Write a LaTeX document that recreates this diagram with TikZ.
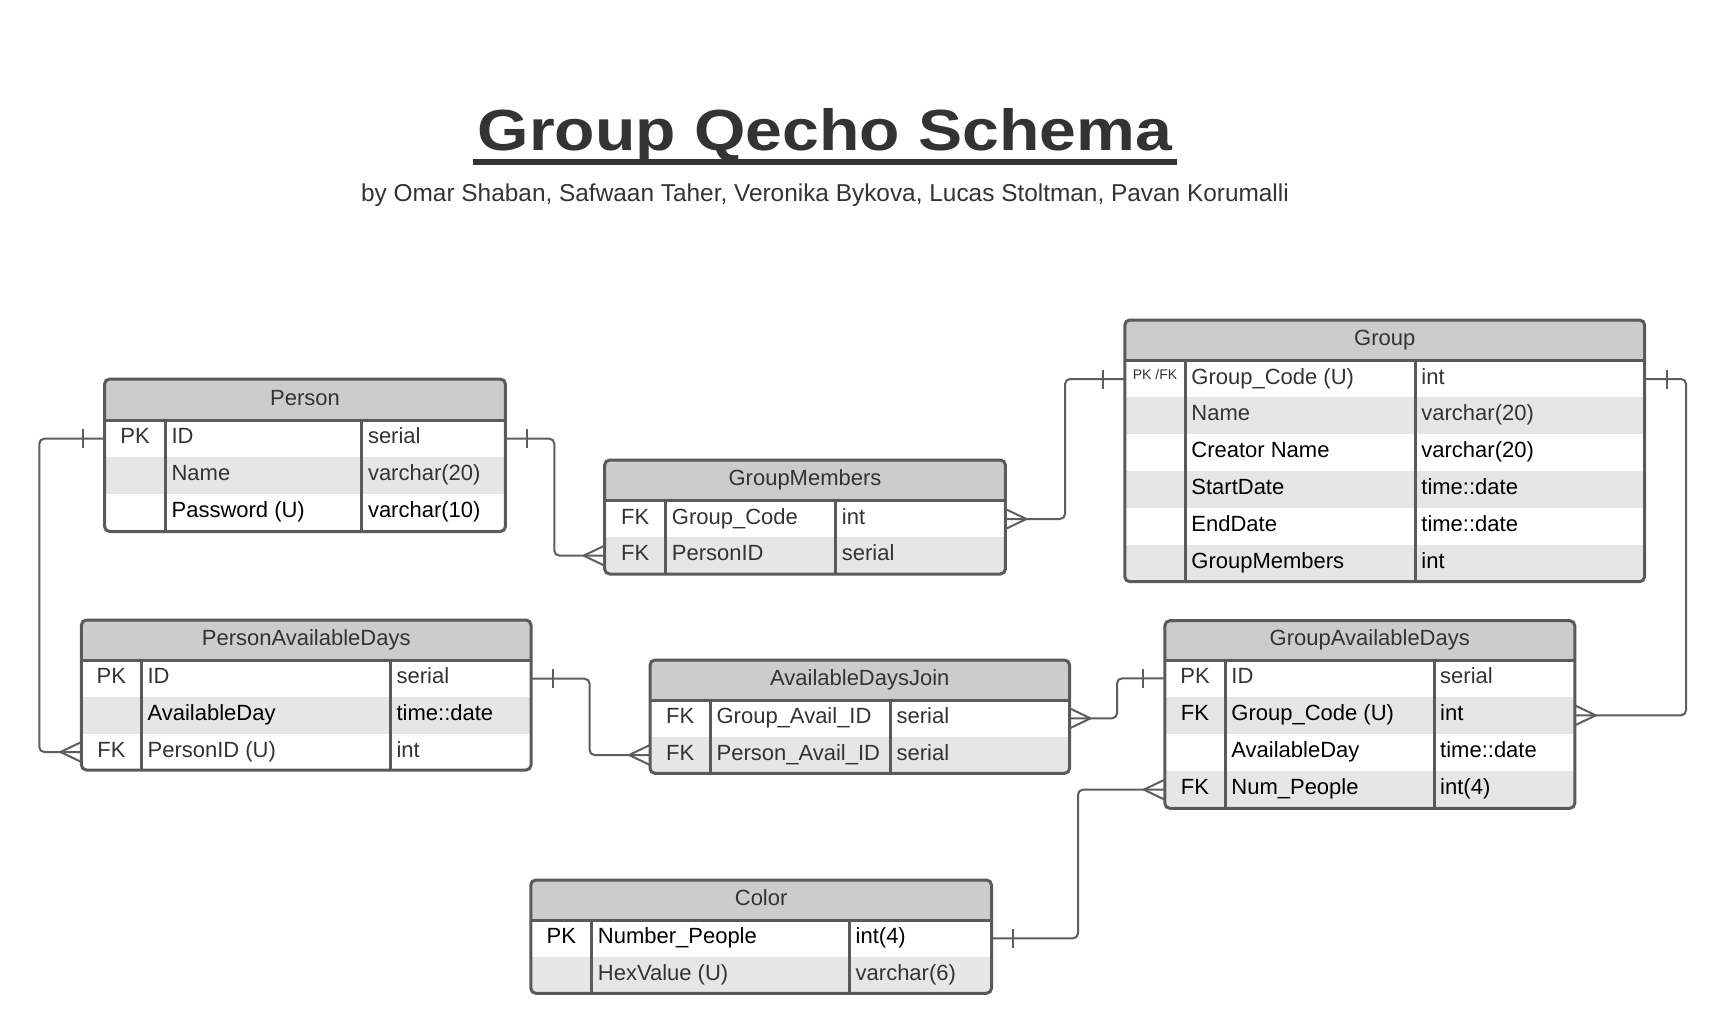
\documentclass[tikz,border=0pt]{standalone}
\usepackage{fontspec}
\setmainfont{Liberation Sans}
\usetikzlibrary{calc}
\definecolor{bordc}{HTML}{5A5A5A}
\definecolor{hdrc}{HTML}{CCCCCC}
\definecolor{stripec}{HTML}{E6E6E6}
\definecolor{txtg}{HTML}{333333}
\definecolor{connc}{HTML}{5E5E5E}
\tikzset{
 border/.style={draw=bordc, line width=3pt},
 conn/.style={draw=connc, line width=2pt, rounded corners=5pt},
 tick/.style={draw=connc, line width=2pt, line join=round},
 celltxt/.style={anchor=base west, inner sep=0pt, font=\fontsize{22}{26}\selectfont},
 keytxt/.style={anchor=base, inner sep=0pt, font=\fontsize{22}{26}\selectfont},
 headtxt/.style={anchor=base, inner sep=0pt, text=txtg, font=\fontsize{22}{26}\selectfont},
 rowbox/.style={rectangle, inner sep=0pt, outer sep=0pt, draw=none},
}
\newcommand\settab[6]{\def\tL{#1}\def\tT{#2}\def\tR{#3}\def\tH{#4}\def\cA{#5}\def\cB{#6}}
\newcommand\erow[8]{%
 \pgfmathsetmacro\rw{\tR-\tL}\pgfmathsetmacro\rh{#3-#2}%
 \pgfmathsetmacro\rx{(\tL+\tR)/2}\pgfmathsetmacro\ry{(#2+#3)/2}%
 \pgfmathsetmacro\rb{\ry+5}%
 \pgfmathsetmacro\kx{(\tL+\cA)/2}%
 \node[rowbox, fill=#4, minimum width=\rw pt, minimum height=\rh pt] (#1) at (\rx,\ry) {};
 \node[keytxt, text=#8] at (\kx,\rb) {#5};
 \node[celltxt, text=#8] at (\cA+6,\rb) {#6};
 \node[celltxt, text=#8] at (\cB+6,\rb) {#7};
}
\newcommand\tabclip[1]{\clip[rounded corners=5pt] (\tL,\tT) rectangle (\tR,#1);
 \fill[hdrc] (\tL,\tT) rectangle (\tR,\tH);}
\newcommand\tabborder[3]{%
 \draw[border] (\tL,\tH) -- (\tR,\tH) (\cA,\tH) -- (\cA,#1) (\cB,\tH) -- (\cB,#1);
 \draw[border, rounded corners=5pt] (\tL,\tT) rectangle (\tR,#1);
 \pgfmathsetmacro\hx{(\tL+\tR)/2}\pgfmathsetmacro\hy{(\tT+\tH)/2+5.5}%
 \node[headtxt] (#3) at (\hx,\hy) {#2};
}
\newcommand\onebar[2]{\draw[tick] ([xshift=#2]#1) ++(0,9.5) -- ++(0,-19);}
\newcommand\crow[2]{\draw[tick] ([yshift=10]#1) -- ([xshift=#2]#1) -- ([yshift=-10]#1);}
\begin{document}
\begin{tikzpicture}[x=1pt,y=-1pt]
\useasboundingbox[fill=white] (0,0) rectangle (1727,1034);

% Title
\node[font=\fontsize{58}{62}\selectfont\bfseries, text=txtg, anchor=base, inner sep=0pt] (title) at (825,150) {\scalebox{1.14}[1]{Group Qecho Schema}};
\draw[txtg, line width=6pt] ([shift={(-5,11.7)}]title.base west) -- ([shift={(5,11.7)}]title.base east);
\node[font=\fontsize{24.4}{28}\selectfont, text=txtg, anchor=base, inner sep=0pt] (byline) at (825,201.5) {by Omar Shaban, Safwaan Taher, Veronika Bykova, Lucas Stoltman, Pavan Korumalli};

% Person
\settab{104.6}{379}{505.4}{420}{165.4}{361.8}
\begin{scope}
\tabclip{531.5}
\erow{person-r1}{420}{457.3}{white}{PK}{ID}{serial}{txtg}
\erow{person-r2}{457.3}{494}{stripec}{}{Name}{varchar(20)}{txtg}
\erow{person-r3}{494}{531.5}{white}{}{Password (U)}{varchar(10)}{black}
\end{scope}
\tabborder{531.5}{Person}{person}

% GroupMembers
\settab{604.6}{460}{1005.4}{500.7}{665.7}{835.7}
\begin{scope}
\tabclip{574}
\erow{gm-r1}{500.7}{537.3}{white}{FK}{Group\_Code}{int}{txtg}
\erow{gm-r2}{537.3}{574}{stripec}{FK}{PersonID}{serial}{txtg}
\end{scope}
\tabborder{574}{GroupMembers}{gm}

% Group
\settab{1124.8}{320}{1644.6}{360.7}{1185.2}{1415.2}
\begin{scope}
\tabclip{581.7}
\erow{group-r1}{360.7}{397.3}{white}{\raisebox{4.5pt}{\fontsize{14}{16}\selectfont PK /FK}}{Group\_Code (U)}{int}{txtg}
\erow{group-r2}{397.3}{434}{stripec}{}{Name}{varchar(20)}{txtg}
\erow{group-r3}{434}{471}{white}{}{Creator Name}{varchar(20)}{black}
\erow{group-r4}{471}{508.3}{stripec}{}{StartDate}{time::date}{black}
\erow{group-r5}{508.3}{545}{white}{}{EndDate}{time::date}{black}
\erow{group-r6}{545}{581.7}{stripec}{}{GroupMembers}{int}{black}
\end{scope}
\tabborder{581.7}{Group}{group}

% PersonAvailableDays
\settab{81.4}{620}{531}{660.7}{141.4}{390.4}
\begin{scope}
\tabclip{770}
\erow{pad-r1}{660.7}{696.7}{white}{PK}{ID}{serial}{txtg}
\erow{pad-r2}{696.7}{734}{stripec}{}{AvailableDay}{time::date}{black}
\erow{pad-r3}{734}{770}{white}{FK}{PersonID (U)}{int}{txtg}
\end{scope}
\tabborder{770}{PersonAvailableDays}{pad}

% AvailableDaysJoin
\settab{650}{660}{1069.6}{700}{710.4}{890.4}
\begin{scope}
\tabclip{773.3}
\erow{adj-r1}{700}{736.7}{white}{FK}{Group\_Avail\_ID}{serial}{txtg}
\erow{adj-r2}{736.7}{773.3}{stripec}{FK}{Person\_Avail\_ID}{serial}{txtg}
\end{scope}
\tabborder{773.3}{AvailableDaysJoin}{adj}

% GroupAvailableDays
\settab{1164.8}{620.7}{1574.8}{660}{1225.2}{1434}
\begin{scope}
\tabclip{808.3}
\erow{gad-r1}{660}{696.7}{white}{PK}{ID}{serial}{txtg}
\erow{gad-r2}{696.7}{734}{stripec}{FK}{Group\_Code (U)}{int}{black}
\erow{gad-r3}{734}{771}{white}{}{AvailableDay}{time::date}{black}
\erow{gad-r4}{771}{808.3}{stripec}{FK}{Num\_People}{int(4)}{black}
\end{scope}
\tabborder{808.3}{GroupAvailableDays}{gad}

% Color
\settab{530.8}{880}{991.5}{920}{591.7}{849.5}
\begin{scope}
\tabclip{993.3}
\erow{color-r1}{920}{956.7}{white}{PK}{Number\_People}{int(4)}{black}
\erow{color-r2}{956.7}{993.3}{stripec}{}{HexValue (U)}{varchar(6)}{txtg}
\end{scope}
\tabborder{993.3}{Color}{color}

% Connectors
\draw[conn] (person-r1.west) -- ++(-65.3,0) |- (pad-r3.west);
\onebar{person-r1.west}{-22}
\crow{pad-r3.west}{-21}

\draw[conn] (person-r1.east) -- ++(48.9,0) |- (gm-r2.west);
\onebar{person-r1.east}{22}
\crow{gm-r2.west}{-21}

\draw[conn] (gm-r1.east) -- ++(59.6,0) |- (group-r1.west);
\crow{gm-r1.east}{21}
\onebar{group-r1.west}{-22}

\draw[conn] (group-r1.east) -- ++(41.4,0) |- (gad-r2.east);
\onebar{group-r1.east}{22}
\crow{gad-r2.east}{21}

\draw[conn] (pad-r1.east) -- ++(58.6,0) |- (adj-r2.west);
\onebar{pad-r1.east}{22}
\crow{adj-r2.west}{-21}

\draw[conn] (adj-r1.east) -- ++(47.4,0) |- (gad-r1.west);
\crow{adj-r1.east}{21}
\onebar{gad-r1.west}{-22}

\draw[conn] (gad-r4.west) -- ++(-86.8,0) |- (color-r1.east);
\crow{gad-r4.west}{-21}
\onebar{color-r1.east}{21}
\end{tikzpicture}
\end{document}
